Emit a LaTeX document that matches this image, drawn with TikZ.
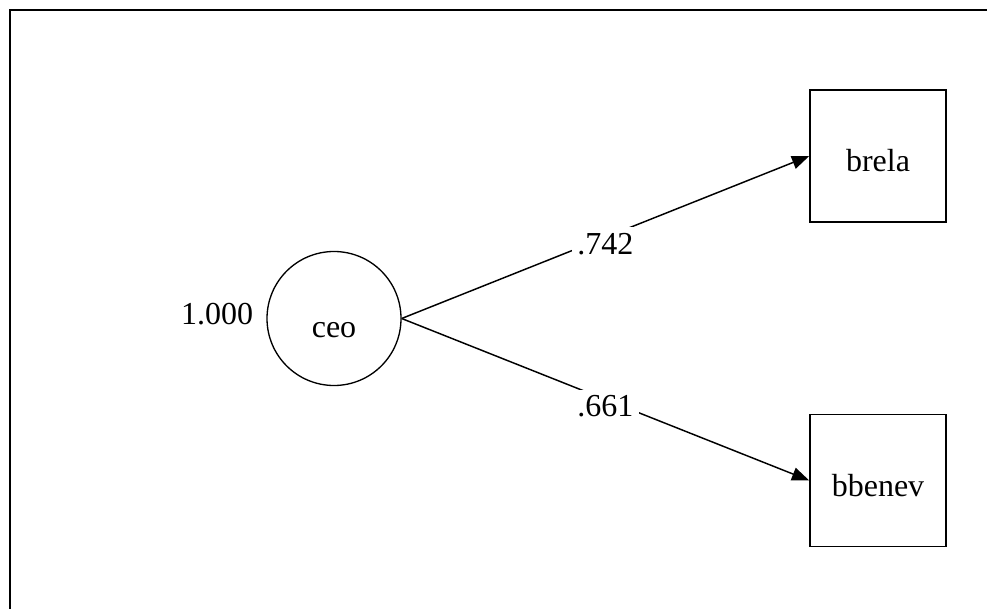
\documentclass[tikz,border=0pt]{standalone}
\usepackage{fontspec}
\setmainfont{Liberation Serif}
\usetikzlibrary{arrows.meta}

\begin{document}
\begin{tikzpicture}[x=0.75pt,y=-0.75pt,
  every node/.style={font=\fontsize{24}{29}\selectfont},
  latent/.style={circle,draw,line width=1pt,minimum size=100.5pt,inner sep=0pt,text height=27.75pt,text depth=0pt},
  observed/.style={rectangle,draw,line width=1.1pt,minimum width=102pt,minimum height=99pt,inner sep=0pt,text height=24pt,text depth=0pt},
  arrowline/.style={-{Triangle[length=13pt,width=10pt]},line width=1.1pt},
  coef/.style={fill=white,inner xsep=4pt,inner ysep=2.5pt,text height=18pt,text depth=6pt,yshift=-7pt}]
\useasboundingbox (0,0) rectangle (987,609);
\draw[line width=1.5pt] (10,609) -- (10,10) -- (987,10);

\node[latent] (ceo) at (334,318.5) {ceo};
\node[observed] (brela) at (878,156) {brela};
\node[observed] (bbenev) at (878,480.5) {bbenev};
\node (var) at (217,314) {1.000};

\draw[arrowline] (ceo.east) -- node[coef] {.742} (brela.west);
\draw[arrowline] (ceo.east) -- node[coef] {.661} (bbenev.west);
\end{tikzpicture}
\end{document}
